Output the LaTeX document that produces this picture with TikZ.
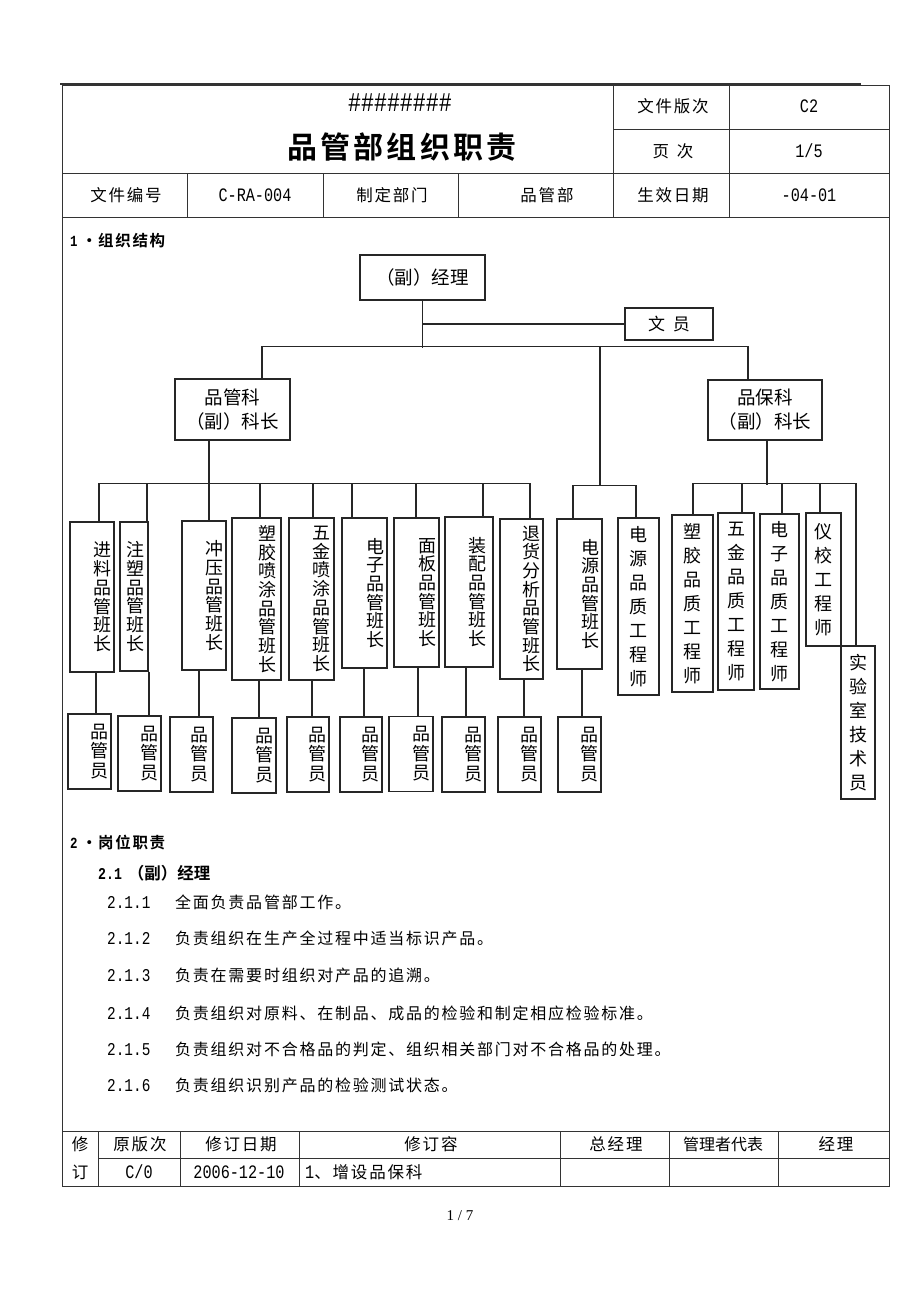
\documentclass[tikz,border=0pt]{standalone}
\usepackage{fontspec}
\setmainfont{Noto Sans CJK SC}[BoldFont={Noto Sans CJK SC Bold}]
\newfontfamily\cjksp{Noto Sans CJK SC}[LetterSpace=11,BoldFont={Noto Sans CJK SC Bold}]
\newfontfamily\lat{Liberation Mono}[FakeStretch=0.8]
\newfontfamily\ser{Liberation Serif}
\usetikzlibrary{positioning}

\tikzset{
  box/.style={draw, black!85, text=black, line width=1.2pt, inner sep=0pt},
  lbl/.style={box, align=center, font=\fontsize{18.5}{24}\selectfont},
  eng/.style={box, align=center, font=\fontsize{18}{24}\selectfont},
  vtxt/.style={inner sep=0pt, align=center, font=\fontsize{18}{18.7}\selectfont},
  stxt/.style={inner sep=0pt, align=center, font=\fontsize{18}{19.5}\selectfont},
  staff/.style={box, minimum width=43, minimum height=75},
  cell/.style={inner sep=0pt, font=\cjksp\fontsize{16.5}{18}\selectfont},
  num/.style={inner sep=0pt, font=\lat\fontsize{19}{20}\selectfont},
  head/.style={anchor=west, inner sep=0pt, font=\cjksp\bfseries\fontsize{15.5}{17}\selectfont},
  item/.style={anchor=west, inner sep=0pt, font=\cjksp\fontsize{16}{18}\selectfont},
  link/.style={black!85, line width=1.2pt},
  tline/.style={black!80, line width=1pt}
}

\begin{document}
\begin{tikzpicture}[x=1pt, y=-1pt]
\fill[white] (0,0) rectangle (920,1302);
\useasboundingbox (0,0) rectangle (920,1302);

% page frame and header table
\draw[black!80, line width=2.4pt] (60,84) -- (861,84);
\draw[tline] (62,85) rectangle (889,1186);
\draw[tline] (613,85) -- (613,217) (729,85) -- (729,217) (613,129) -- (889,129);
\draw[tline] (62,173) -- (889,173) (62,217) -- (889,217);
\draw[tline] (187,173) -- (187,217) (323,173) -- (323,217) (458,173) -- (458,217);

\node[inner sep=0pt, font=\lat\fontsize{27}{28}\selectfont] (code) at (400,103) {\#\#\#\#\#\#\#\#};
\node[inner sep=0pt, font=\cjksp\bfseries\fontsize{30}{32}\selectfont] (title) at (402,147) {品管部组织职责};
\node[cell] (verh) at (673,106) {文件版次};
\node[num] (ver) at (809,106) {C2};
\node[cell] (pageh) at (673,151) {页\hspace{8pt}次};
\node[num] (page) at (809,151) {1/5};
\node[cell] (noh) at (126,195) {文件编号};
\node[num] (no) at (255,195) {C-RA-004};
\node[cell] (deph) at (392,195) {制定部门};
\node[cell] (dep) at (547,195) {品管部};
\node[cell] (dateh) at (673,195) {生效日期};
\node[num] (date) at (809,195) {-04-01};

% 1. organisation chart
\node[head] (sec1) at (70,241) {{\lat\bfseries 1}\hspace{4pt}·\hspace{1pt}组织结构};

\node[lbl, minimum width=125, minimum height=45] (mgr) at (422.5,277.5) {（副）经理};
\node[lbl, minimum width=88, minimum height=32, font=\fontsize{17}{18}\selectfont] (clerk) at (669,324) {文\hspace{8pt}员};
\node[lbl, minimum width=115, minimum height=61] (qc) at (232.5,409.5) {品管科\\（副）科长};
\node[lbl, minimum width=114, minimum height=60] (qa) at (765,410) {品保科\\（副）科长};

\draw[link] (mgr.south) -- ++(0,47);
\draw[link] (mgr.south |- clerk.west) -- (clerk.west);
\draw[link] ([xshift=29.5]qc.north) -- ++(0,-32) -| ([xshift=-17]qa.north);

% 品管科 group
\node[box, minimum width=44, minimum height=150] (c1) at (92,597) {};
\node[box, minimum width=28, minimum height=149] (c2) at (134,596.5) {};
\node[box, minimum width=44, minimum height=149] (c3) at (204,595.5) {};
\node[box, minimum width=49, minimum height=162] (c4) at (256.5,599) {};
\node[box, minimum width=45, minimum height=162] (c5) at (311.5,599) {};
\node[box, minimum width=45, minimum height=150] (c6) at (364.5,593) {};
\node[box, minimum width=45, minimum height=149] (c7) at (416.5,592.5) {};
\node[box, minimum width=48, minimum height=150] (c8) at (469,592) {};
\node[box, minimum width=43, minimum height=160] (c9) at (521.5,599) {};
\node[box, minimum width=45, minimum height=150] (c10) at (579.5,594) {};

\node[vtxt, left=3pt of c1.east] (c1t) {进\\料\\品\\管\\班\\长};
\node[vtxt, left=4pt of c2.east] (c2t) {注\\塑\\品\\管\\班\\长};
\node[vtxt, left=3pt of c3.east] (c3t) {冲\\压\\品\\管\\班\\长};
\node[vtxt, left=5pt of c4.east] (c4t) {塑\\胶\\喷\\涂\\品\\管\\班\\长};
\node[vtxt, left=4pt of c5.east] (c5t) {五\\金\\喷\\涂\\品\\管\\班\\长};
\node[vtxt, left=3pt of c6.east] (c6t) {电\\子\\品\\管\\班\\长};
\node[vtxt, left=3pt of c7.east] (c7t) {面\\板\\品\\管\\班\\长};
\node[vtxt, left=7pt of c8.east] (c8t) {装\\配\\品\\管\\班\\长};
\node[vtxt, left=3pt of c9.east] (c9t) {退\\货\\分\\析\\品\\管\\班\\长};
\node[vtxt, left=3pt of c10.east] (c10t) {电\\源\\品\\管\\班\\长};

\draw[link] ([xshift=-23.5]qc.south) -- ++(0,81);
\draw[link] ([xshift=7]c1.north) -- ++(0,-38) -| ([xshift=8.5]c9.north);
\draw[link] ([xshift=13]c2.north) -- ++(0,-38);
\draw[link] ([xshift=3.5]c4.north) -- ++(0,-34);
\draw[link] ([xshift=1.5]c5.north) -- ++(0,-34);
\draw[link] ([xshift=-12.5]c6.north) -- ++(0,-34);
\draw[link] ([xshift=-0.5]c7.north) -- ++(0,-34);
\draw[link] ([xshift=14]c8.north) -- ++(0,-33);

\node[staff] (s1) at (89.5,751.5) {};
\node[staff] (s2) at (139.5,753.5) {};
\node[staff] (s3) at (191.5,754.5) {};
\node[staff, minimum width=44] (s4) at (254,755.5) {};
\node[staff, minimum width=42] (s5) at (308,754.5) {};
\node[staff, minimum width=42] (s6) at (361,754.5) {};
\node[staff, minimum width=44] (s7) at (411,754) {};
\node[staff] (s8) at (463.5,754.5) {};
\node[staff] (s9) at (519.5,754.5) {};
\node[staff] (s10) at (579.5,754.5) {};

\node[stxt, left=3pt of s1.east] (s1t) {品\\管\\员};
\node[stxt, left=3pt of s2.east] (s2t) {品\\管\\员};
\node[stxt, left=5pt of s3.east] (s3t) {品\\管\\员};
\node[stxt, left=3pt of s4.east] (s4t) {品\\管\\员};
\node[stxt, left=3pt of s5.east] (s5t) {品\\管\\员};
\node[stxt, left=3pt of s6.east] (s6t) {品\\管\\员};
\node[stxt, left=3pt of s7.east] (s7t) {品\\管\\员};
\node[stxt, left=3pt of s8.east] (s8t) {品\\管\\员};
\node[stxt, left=3pt of s9.east] (s9t) {品\\管\\员};
\node[stxt, left=3pt of s10.east] (s10t) {品\\管\\员};

\draw[link] ([xshift=4]c1.south) -- ++(0,42);
\draw[link] ([xshift=15]c2.south) -- ++(0,45);
\draw[link] ([xshift=-5]c3.south) -- ++(0,47);
\draw[link] ([xshift=2.5]c4.south) -- ++(0,38);
\draw[link] ([xshift=0.5]c5.south) -- ++(0,37);
\draw[link] ([xshift=-0.5]c6.south) -- ++(0,49);
\draw[link] ([xshift=1.5]c7.south) -- ++(0,49);
\draw[link] ([xshift=-3]c8.south) -- ++(0,50);
\draw[link] ([xshift=2.5]c9.south) -- ++(0,38);
\draw[link] ([xshift=2.5]c10.south) -- ++(0,48);

% power branch and 品保科 group
\node[eng, minimum width=41, minimum height=177] (e1) at (638.5,606.5) {电\\源\\品\\质\\工\\程\\师};
\node[eng, minimum width=41, minimum height=177] (e2) at (692.5,603.5) {塑\\胶\\品\\质\\工\\程\\师};
\node[eng, minimum width=36, minimum height=177] (e3) at (736,601.5) {五\\金\\品\\质\\工\\程\\师};
\node[eng, minimum width=39, minimum height=175] (e4) at (779.5,601.5) {电\\子\\品\\质\\工\\程\\师};
\node[eng, minimum width=35, minimum height=133] (e5) at (823.5,579.5) {仪\\校\\工\\程\\师};
\node[eng, minimum width=34, minimum height=153] (e6) at (858,722.5) {实\\验\\室\\技\\术\\员};

\coordinate (pwr) at (600,347);
\draw[link] (pwr) -- ++(0,139);
\draw[link] ([xshift=-6.5]c10.north) -- ++(0,-33) -| ([xshift=-2.5]e1.north);

\draw[link] ([xshift=2]qa.south) -- ++(0,44);
\draw[link] ([xshift=0.5]e2.north) -- ++(0,-31) -| ([xshift=-2]e6.north);
\draw[link] ([xshift=6]e3.north) -- ++(0,-29);
\draw[link] ([xshift=2.5]e4.north) -- ++(0,-30);
\draw[link] ([xshift=-3.5]e5.north) -- ++(0,-29);

% 2. duties
\node[head] (sec2) at (70,843) {{\lat\bfseries 2}\hspace{4pt}·\hspace{1pt}岗位职责};
\node[head, font=\bfseries\fontsize{16.5}{18}\selectfont] (sec21) at (98,873) {{\lat\bfseries 2.1}\hspace{6pt}（副）经理};
\node[item] (i1) at (107,902) {\makebox[68pt][l]{\lat\fontsize{18}{18}\selectfont 2.1.1}全面负责品管部工作。};
\node[item] (i2) at (107,938) {\makebox[68pt][l]{\lat\fontsize{18}{18}\selectfont 2.1.2}负责组织在生产全过程中适当标识产品。};
\node[item] (i3) at (107,975) {\makebox[68pt][l]{\lat\fontsize{18}{18}\selectfont 2.1.3}负责在需要时组织对产品的追溯。};
\node[item] (i4) at (107,1013) {\makebox[68pt][l]{\lat\fontsize{18}{18}\selectfont 2.1.4}负责组织对原料、在制品、成品的检验和制定相应检验标准。};
\node[item] (i5) at (107,1049) {\makebox[68pt][l]{\lat\fontsize{18}{18}\selectfont 2.1.5}负责组织对不合格品的判定、组织相关部门对不合格品的处理。};
\node[item] (i6) at (107,1085) {\makebox[68pt][l]{\lat\fontsize{18}{18}\selectfont 2.1.6}负责组织识别产品的检验测试状态。};

% revision table
\draw[tline] (62,1131) -- (889,1131) (98,1158) -- (889,1158);
\draw[tline] (98,1131) -- (98,1186) (180,1131) -- (180,1186) (299,1131) -- (299,1186)
  (560,1131) -- (560,1186) (669,1131) -- (669,1186) (778,1131) -- (778,1186);
\node[cell, align=center, font=\fontsize{16.5}{28}\selectfont] (revh) at (80,1158) {修\\订};
\node[cell] (oldh) at (140,1144) {原版次};
\node[num] (old) at (139,1172) {C/0};
\node[cell] (revdh) at (241,1144) {修订日期};
\node[num] (revd) at (239,1172) {2006-12-10};
\node[cell] (revch) at (431,1144) {修订容};
\node[cell, anchor=west] (revc) at (305,1172) {{\lat\fontsize{19}{20}\selectfont 1}、增设品保科};
\node[cell] (gmh) at (616,1144) {总经理};
\node[cell, font=\fontsize{16}{18}\selectfont] (reph) at (723,1144) {管理者代表};
\node[cell] (mgrh) at (836,1144) {经理};

\node[inner sep=0pt, font=\ser\fontsize{15}{17}\selectfont] (foot) at (460,1216) {1 / 7};
\end{tikzpicture}
\end{document}
